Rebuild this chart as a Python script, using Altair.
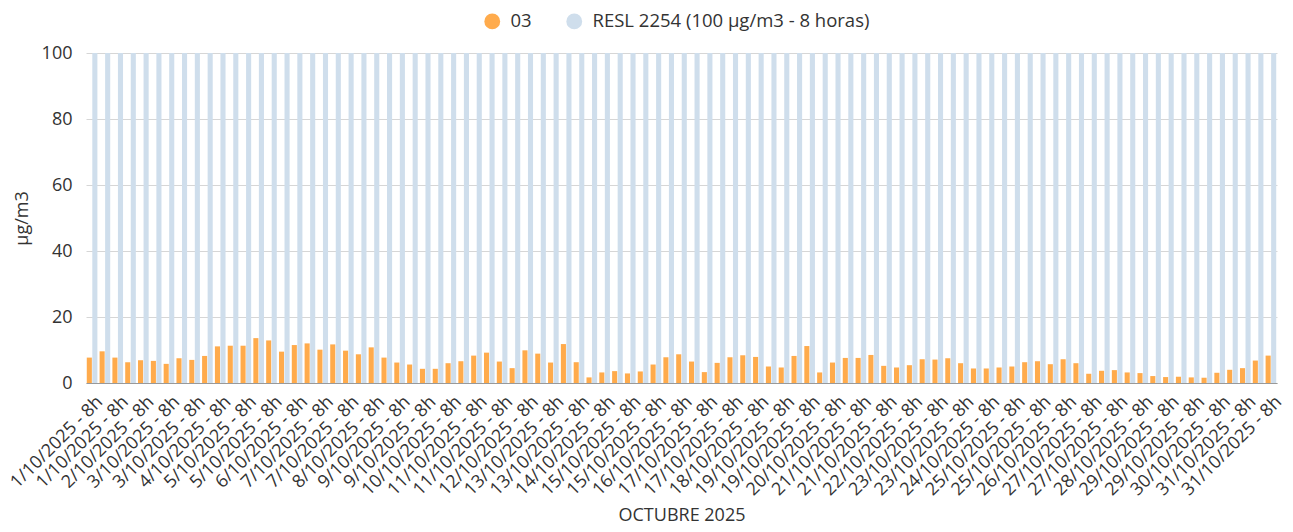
import altair as alt
import pandas as pd

# Category labels: 31 days x 3 eight-hour periods (all labelled "8h" in the source)
DAYS = list(range(1, 32))
LABELS = [f"{d}/10/2025 - 8h" for d in DAYS for _ in range(3)]

O3 = [
    7.7, 9.6, 7.7, 6.3, 6.9, 6.7, 5.8, 7.5, 7.0, 8.2,
    11.1, 11.3, 11.3, 13.6, 12.9, 9.5, 11.5, 12.0, 10.1, 11.7,
    9.8, 8.7, 10.8, 7.7, 6.2, 5.6, 4.3, 4.3, 6.0, 6.6,
    8.3, 9.2, 6.5, 4.5, 9.9, 8.9, 6.2, 11.8, 6.3, 1.7,
    3.2, 3.6, 2.9, 3.5, 5.6, 7.8, 8.7, 6.5, 3.3, 6.1,
    7.8, 8.4, 7.9, 5.0, 4.7, 8.2, 11.2, 3.2, 6.2, 7.6,
    7.6, 8.5, 5.2, 4.7, 5.4, 7.2, 7.1, 7.5, 6.0, 4.4,
    4.4, 4.7, 5.0, 6.3, 6.6, 5.7, 7.2, 6.0, 2.8, 3.7,
    3.9, 3.2, 3.0, 2.1, 1.8, 1.9, 1.7, 1.6, 3.1, 4.0,
    4.5, 6.8, 8.3,
]
LIMIT = [100] * len(LABELS)

SERIES = ["03", "RESL 2254 (100 µg/m3 - 8 horas)"]
COLORS = ["#FFAB4C", "#CFDEEC"]

KEYS = [f"{lab}#{i}" for i, lab in enumerate(LABELS)]

rows = []
for k, a, b in zip(KEYS, O3, LIMIT):
    rows.append({"key": k, "serie": SERIES[0], "value": a})
    rows.append({"key": k, "serie": SERIES[1], "value": b})
df = pd.DataFrame(rows)

FONT = "Open Sans"

chart = (
    alt.Chart(df)
    .mark_bar()
    .encode(
        x=alt.X(
            "key:N",
            sort=KEYS,
            scale=alt.Scale(paddingInner=0.17, paddingOuter=0.06),
            axis=alt.Axis(
                title="OCTUBRE 2025",
                values=KEYS[::2],
                labelExpr="split(datum.value, '#')[0]",
                labelAngle=-45,
                labelAlign="right",
                labelBaseline="middle",
                labelFontSize=18,
                labelColor="#333333",
                labelPadding=16,
                labelOffset=8,
                labelOverlap=False,
                labelLimit=300,
                ticks=False,
                domainColor="#999999",
                domainWidth=1,
                grid=False,
                titleFontSize=18,
                titleFontWeight="normal",
                titleColor="#333333",
                titleY=137,
                titleBaseline="alphabetic",
            ),
        ),
        xOffset=alt.XOffset("serie:N", sort=SERIES, scale=alt.Scale(paddingInner=0.08)),
        y=alt.Y(
            "value:Q",
            scale=alt.Scale(domain=[0, 100], nice=False),
            axis=alt.Axis(
                title="µg/m3",
                values=[0, 20, 40, 60, 80, 100],
                labelFontSize=18,
                labelColor="#333333",
                labelPadding=14,
                ticks=False,
                domain=False,
                gridColor="#d6d6d6",
                gridWidth=1,
                titleFontSize=18,
                titleFontWeight="normal",
                titleColor="#333333",
                titleX=-64,
                titleY=165,
                titleAngle=-90,
                titleAlign="center",
                titleBaseline="middle",
            ),
        ),
        color=alt.Color(
            "serie:N",
            sort=SERIES,
            scale=alt.Scale(domain=SERIES, range=COLORS),
            legend=alt.Legend(
                title=None,
                orient="none",
                direction="horizontal",
                legendX=397,
                legendY=-41,
                symbolType="circle",
                symbolSize=250,
                symbolStrokeWidth=0,
                symbolOpacity=1,
                labelFontSize=18.5,
                labelColor="#333333",
                labelOffset=9,
                labelLimit=500,
                columnPadding=33,
                padding=0,
            ),
        ),
    )
    .properties(
        width=1191,
        height=330,
        padding={"left": 78, "top": 45, "right": 8, "bottom": 141},
        autosize=alt.AutoSizeParams(type="none"),
    )
    .configure(font=FONT)
    .configure_view(stroke=None)
)

chart.save("out.html", embed_options={"renderer": "svg", "actions": False})
